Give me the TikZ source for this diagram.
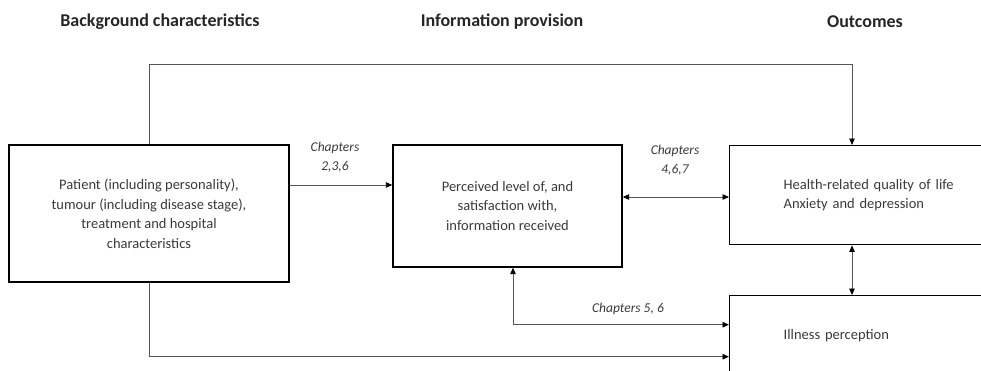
\documentclass[tikz,border=0pt]{standalone}
\usepackage{fontspec}
\setmainfont{Carlito}
\usetikzlibrary{arrows.meta,calc,positioning}
\definecolor{linegray}{HTML}{555555}
\definecolor{textgray}{HTML}{3a3a3a}

\begin{document}
\begin{tikzpicture}[x=1pt,y=-1pt,
  box/.style={draw=black, line width=1.4pt, inner sep=0pt, text=textgray,
    font=\fontsize{14.5}{19.5}\selectfont, align=center},
  tip/.tip={Triangle[length=6.5pt,width=5.5pt,color=black]},
  link/.style={draw=linegray, line width=0.9pt, -tip},
  both/.style={link, tip-tip},
  chap/.style={font=\fontsize{13.5}{19}\selectfont\itshape, text=textgray, align=center},
  head/.style={font=\fontsize{18}{20}\selectfont\bfseries, text=black!85}]
  \useasboundingbox (0,0) rectangle (981,370);
  \clip (0,0) rectangle (981,370);
  % column headings
  \node[head] (hbg)  at (160,22) {Background characteristics};
  \node[head] (hinf) at (502,22) {Information provision};
  \node[head] (hout) at (865,22) {Outcomes};
  % boxes
  \node[box, minimum width=280, minimum height=137] (patient) at (149,213.5)
    {Patient (including personality),\\tumour (including disease stage),\\treatment and hospital\\characteristics};
  \node[box, minimum width=229, minimum height=122] (info) at (507.5,206)
    {Perceived level of, and\\satisfaction with,\\information received};
  \node[box, anchor=north west, align=left, text width=185, inner xsep=54, minimum height=99] (hrqol) at (729,145)
    {Health-related quality of life\\Anxiety and depression};
  \node[box, anchor=north west, align=left, text width=185, inner xsep=54, minimum height=80] (illness) at (729,295)
    {Illness perception};
  % connectors
  \coordinate (a) at ([yshift=28.5]patient.east);
  \coordinate (b) at ([yshift=9]info.east);
  \draw[link] (patient.north) -- ++(0,-80) -| ([xshift=123]hrqol.north west);
  \draw[link] (a) -- (a -| info.west);
  \draw[both] (b) -- (b -| hrqol.west);
  \draw[both] ([xshift=5.5]info.south) |- ([yshift=11]illness.west);
  \draw[link] (patient.south) |- ([yshift=-21]illness.west);
  \draw[both] ([xshift=123]hrqol.south west) -- ([xshift=123]illness.north west);
  % chapter labels
  \node[chap] (c236) at (335,157) {Chapters\\2,3,6};
  \node[chap] (c467) at (675,160) {Chapters\\4,6,7};
  \node[chap] (c56)  at (628,309) {Chapters 5, 6};
\end{tikzpicture}
\end{document}
